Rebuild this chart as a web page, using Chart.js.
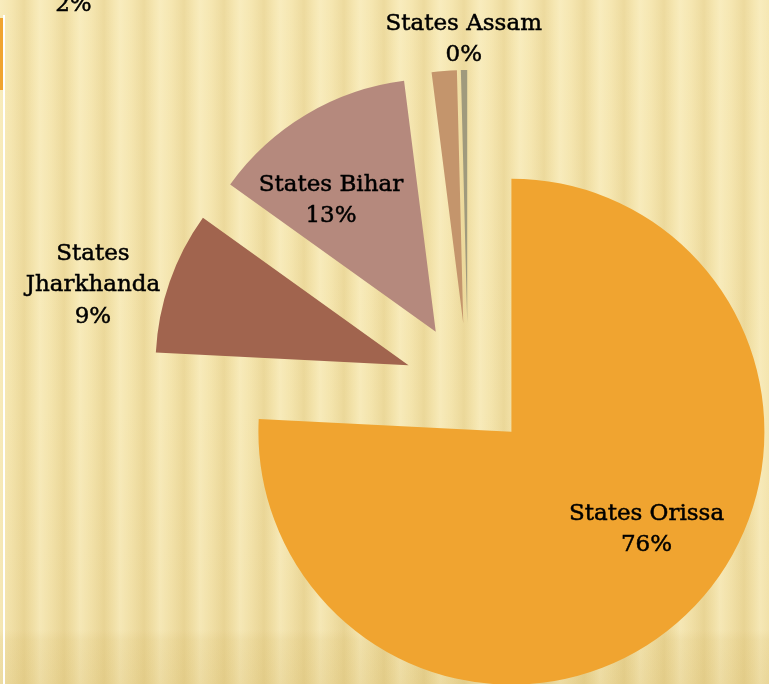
<!DOCTYPE html>
<html>
<head>
<meta charset="utf-8">
<script src="https://cdn.jsdelivr.net/npm/chart.js@4.4.0/dist/chart.umd.min.js"></script>
<style>
  html, body { margin: 0; padding: 0; }
  body {
    width: 769px; height: 684px; overflow: hidden; position: relative;
    background:
      linear-gradient(180deg, rgba(0,0,0,0) 0px, rgba(0,0,0,0) 630px, rgba(205,175,90,0.12) 640px, rgba(205,175,90,0.2) 684px),
      repeating-linear-gradient(90deg, rgba(255,248,215,0.4) 0px, rgba(255,248,215,0.12) 11px, rgba(200,168,85,0.16) 24px, rgba(255,248,215,0.12) 34px, rgba(255,248,215,0.4) 40px),
      linear-gradient(180deg, #F4E4AC 0%, #F2E1A6 60%, #EEDB9E 100%);
  }
  #c { position: absolute; left: 0; top: 0; }
  .edge { position: absolute; left: 3px; top: 15px; width: 2px; height: 669px; background: #fff; }
  .tab { position: absolute; left: 0; top: 18px; width: 3px; height: 72px; background: #F0A430; }
</style>
</head>
<body>
<div class="edge"></div>
<div class="tab"></div>
<canvas id="c" width="769" height="684"></canvas>
<script>
// slice data, clockwise from 12 o'clock
const states = ['States Orissa', 'States Jharkhanda', 'States Bihar', 'States West Bengal', 'States Assam'];
const shares = [75.8, 9.1, 13.1, 1.6, 0.4];
const pctLabels = ['76%', '9%', '13%', '2%', '0%'];
const sliceColors = ['#F0A430', '#A1644E', '#B5897D', '#C4956C', '#A09A7D'];

// layout
const pieRadius = 253;
const explodeShift = 63;   // every slice pulled out from the centre by this much
const wrapName = [false, true, false, false, false];
// label block centres, polar from pie centre: [radius px, degrees clockwise from top]
const labelPos = [[227.5, 128.3], [389, 285.4], [232.6, 323.9], [561, 315.3], [349, 359.3]];

const fontSize = 23;
const lineGap = 31.5;

// draw the slices ourselves so each one is shifted out without being trimmed
const explodedSlices = {
  id: 'explodedSlices',
  beforeDatasetDraw(chart, args) {
    const ctx = chart.ctx;
    args.meta.data.forEach(arc => {
      const mid = (arc.startAngle + arc.endAngle) / 2;
      ctx.save();
      ctx.translate(Math.cos(mid) * explodeShift, Math.sin(mid) * explodeShift);
      arc.draw(ctx);
      ctx.restore();
    });
    return false;
  }
};

const sliceLabels = {
  id: 'sliceLabels',
  afterDatasetsDraw(chart) {
    const ctx = chart.ctx;
    const arcs = chart.getDatasetMeta(0).data;
    ctx.save();
    ctx.font = fontSize + 'px "DejaVu Serif", serif';
    ctx.fillStyle = '#000';
    ctx.strokeStyle = '#000';
    ctx.lineWidth = 0.5;
    ctx.textAlign = 'center';
    ctx.textBaseline = 'alphabetic';
    arcs.forEach((arc, i) => {
      const [r, deg] = labelPos[i];
      const a = deg * Math.PI / 180;
      const cx = arc.x + r * Math.sin(a);
      const cy = arc.y - r * Math.cos(a);
      const lines = wrapName[i] ? states[i].split(' ') : [states[i]];
      lines.push(pctLabels[i]);
      lines.forEach((t, k) => {
        const y = cy + (k - (lines.length - 1) / 2) * lineGap + fontSize * 0.729 / 2;
        ctx.fillText(t, cx, y);
        ctx.strokeText(t, cx, y);
      });
    });
    ctx.restore();
  }
};

new Chart('c', {
  type: 'pie',
  data: {
    labels: states,
    datasets: [{
      data: shares,
      backgroundColor: sliceColors,
      borderWidth: 0,
      clip: false
    }]
  },
  options: {
    responsive: false,
    animation: false,
    devicePixelRatio: 1,
    radius: pieRadius,
    layout: { padding: { left: 167, right: 0, top: 88, bottom: 0 } },
    plugins: {
      legend: { display: false },
      tooltip: { enabled: false }
    }
  },
  plugins: [explodedSlices, sliceLabels]
});
</script>
</body>
</html>
